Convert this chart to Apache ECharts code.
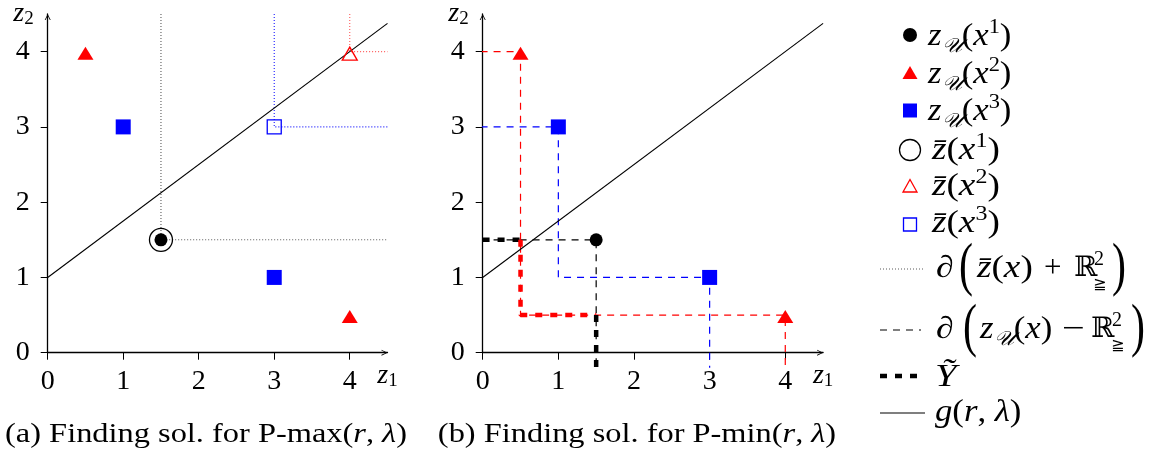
<!DOCTYPE html>
<html><head><meta charset="utf-8">
<script src="https://cdn.jsdelivr.net/npm/echarts@6/dist/echarts.min.js"></script>
<style>html,body{margin:0;padding:0;background:#fff}#c{width:1152px;height:457px}</style>
</head><body><div id="c"></div><script>
// ---------- data ----------
const tickValues = [0, 1, 2, 3, 4];
const tickLabels = ['0', '1', '2', '3', '4'];
const axisMin = 0, axisMax = 4.5;
const zU1 = [[1.5, 1.5]];
const zU2 = [[0.5, 4], [4, 0.5]];
const zU3 = [[1, 3], [3, 1]];
const zBar1 = [[1.5, 1.5]];
const zBar2 = [[4, 4]];
const zBar3 = [[3, 3]];
const gLine = [[-0.2, 0.85], [4.5, 4.375]];
const upBound1 = [[1.5, 4.5], [1.5, 1.5], [4.5, 1.5]];
const upBound2 = [[4, 4.5], [4, 4], [4.5, 4]];
const upBound3 = [[3, 4.5], [3, 3], [4.5, 3]];
const lowBound1 = [[-0.2, 1.5], [1.5, 1.5], [1.5, -0.2]];
const lowBound2 = [[-0.2, 4], [0.5, 4], [0.5, 0.5], [4, 0.5], [4, -0.2]];
const lowBound3 = [[-0.2, 3], [1, 3], [1, 1], [3, 1], [3, -0.2]];
const yTildeBlackA = [[-0.2, 1.5], [0.5, 1.5]];
const yTildeRed = [[0.5, 1.5], [0.5, 0.5], [1.5, 0.5]];
const yTildeBlackB = [[1.5, 0.5], [1.5, -0.2]];

// ---------- style ----------
const SERIF = "'Liberation Serif', 'DejaVu Serif', serif";
const MATHF = "'Liberation Serif', 'DejaVu Serif', 'DejaVu Sans', 'Noto Sans', serif";
const RED = '#ff0000', BLUE = '#0000ff', BLACK = '#000000';
const arrowPath = 'path://M0,10 L5,0 L10,10 L8.6,10 L5,2.8 L1.4,10 Z';
const FS = 28;

function xAx(gi) {
  return {
    type: 'value', gridIndex: gi, min: axisMin, max: axisMax, interval: 1,
    splitLine: { show: false },
    axisLine: { onZero: false, lineStyle: { color: BLACK, width: 1.3 }, symbol: ['none', arrowPath], symbolSize: [7, 6], symbolOffset: [0, -3] },
    axisTick: { customValues: tickValues, length: 7, lineStyle: { color: BLACK, width: 1 } },
    axisLabel: { customValues: tickValues, formatter: v => tickLabels[tickValues.indexOf(v)], margin: 15,
      color: BLACK, fontFamily: SERIF, fontSize: FS },
    name: '{i|z}{s|1}', nameLocation: 'end', nameGap: 0,
    nameTextStyle: { align: 'center', verticalAlign: 'top', padding: [8, 0, 0, 0],
      rich: { i: { fontFamily: SERIF, fontStyle: 'italic', fontSize: FS, lineHeight: 30, color: BLACK },
              s: { fontFamily: SERIF, fontSize: 19, lineHeight: 19, verticalAlign: 'bottom', color: BLACK } } }
  };
}
function yAx(gi) {
  return {
    type: 'value', gridIndex: gi, min: axisMin, max: axisMax, interval: 1,
    splitLine: { show: false },
    axisLine: { onZero: false, lineStyle: { color: BLACK, width: 1.3 }, symbol: ['none', arrowPath], symbolSize: [7, 6], symbolOffset: [0, -3] },
    axisTick: { customValues: tickValues, length: 7, lineStyle: { color: BLACK, width: 1 } },
    axisLabel: { customValues: tickValues, formatter: v => tickLabels[tickValues.indexOf(v)], margin: 18,
      color: BLACK, fontFamily: SERIF, fontSize: FS },
    name: '{i|z}{s|2}', nameLocation: 'end', nameGap: 0,
    nameTextStyle: { align: 'right', verticalAlign: 'middle', padding: [0, 14, 0, 0],
      rich: { i: { fontFamily: SERIF, fontStyle: 'italic', fontSize: FS, lineHeight: 30, color: BLACK },
              s: { fontFamily: SERIF, fontSize: 19, lineHeight: 19, verticalAlign: 'bottom', color: BLACK } } }
  };
}
function lineS(gi, data, color, width, type, z) {
  return { type: 'line', xAxisIndex: gi, yAxisIndex: gi, data, showSymbol: false, symbol: 'none', clip: false,
    silent: true, animation: false, z: z || 2, lineStyle: { color, width, type, cap: 'butt', opacity: 1 } };
}
function scat(gi, data, symbol, size, fill, stroke, offset, z) {
  return { type: 'scatter', xAxisIndex: gi, yAxisIndex: gi, data, symbol, symbolSize: size, symbolOffset: offset || [0, 0],
    clip: false, silent: true, animation: false, z: z || 4,
    itemStyle: stroke ? { color: 'rgba(0,0,0,0)', borderColor: stroke, borderWidth: 1.3, opacity: 1 } : { color: fill, opacity: 1 } };
}
const TRI = [16, 13], TRIOFF = [0, 1.5];
const series = [
  // (a)
  lineS(0, gLine, BLACK, 1.1, 'solid', 3),
  lineS(0, upBound1, 'rgba(0,0,0,0.65)', 1.1, [1, 2]),
  lineS(0, upBound2, 'rgba(255,0,0,0.65)', 1.1, [1, 2]),
  lineS(0, upBound3, 'rgba(0,0,255,0.9)', 1.1, [1, 2]),
  scat(0, zBar1, 'circle', 23, null, BLACK),
  scat(0, zBar2, 'triangle', [15, 13], null, RED, [0, 2]),
  scat(0, zBar3, 'rect', 14, null, BLUE),
  scat(0, zU1, 'circle', 13, BLACK),
  scat(0, zU2, 'triangle', TRI, RED, null, TRIOFF),
  scat(0, zU3, 'rect', 15, BLUE),
  // (b)
  lineS(1, gLine, BLACK, 1.1, 'solid', 3),
  lineS(1, lowBound1, BLACK, 1.2, [7, 6]),
  lineS(1, lowBound2, RED, 1.2, [7, 6]),
  lineS(1, lowBound3, BLUE, 1.2, [7, 6]),
  lineS(1, yTildeBlackA, BLACK, 4.5, [7, 8], 3),
  lineS(1, yTildeRed, RED, 4.5, [7, 8], 3),
  lineS(1, yTildeBlackB, BLACK, 4.5, [7, 8], 3),
  scat(1, zU1, 'circle', 13, BLACK),
  scat(1, zU2, 'triangle', TRI, RED, null, TRIOFF),
  scat(1, zU3, 'rect', 15, BLUE)
];

// ---------- legend & captions (graphics) ----------
const LF = 31;
const rich = {
  i: { fontFamily: SERIF, fontStyle: 'italic', fontSize: LF, lineHeight: 34, fill: BLACK },
  r: { fontFamily: SERIF, fontSize: LF, lineHeight: 34, fill: BLACK },
  s: { fontFamily: MATHF, fontStyle: 'italic', fontSize: 20, lineHeight: 20, verticalAlign: 'bottom', padding: [0, 0, -3, 0], fill: BLACK },
  p: { fontFamily: SERIF, fontSize: 20, lineHeight: 20, verticalAlign: 'top', padding: [-2, 0, 0, 0], fill: BLACK }
};
const SX = 1.12;
function rt(x, y, text, sx) {
  return { type: 'text', x, y, silent: true, scaleX: sx || SX,
    style: { text, rich, verticalAlign: 'middle', align: 'left', fill: BLACK } };
}
function pt(x, y, text, size, opts) {
  opts = opts || {};
  return { type: 'text', x, y, silent: true, scaleX: opts.sx || 1,
    style: { text, fontFamily: opts.font || MATHF, fontStyle: opts.italic ? 'italic' : 'normal', fontSize: size,
      verticalAlign: 'middle', align: opts.align || 'left', fill: BLACK } };
}
function caption(x, y, head) {
  return { type: 'text', x, y, silent: true, scaleX: 1.2,
    style: { text: '{c|' + head + '(}{ci|r}{c|, }{ci|λ}{c|)}', align: 'center', verticalAlign: 'middle',
      rich: { c: { fontFamily: SERIF, fontSize: 27, fill: BLACK }, ci: { fontFamily: SERIF, fontStyle: 'italic', fontSize: 27, fill: BLACK } } } };
}
const LX = 910;
const graphics = [
  { type: 'circle', shape: { cx: LX, cy: 35, r: 7 }, style: { fill: BLACK }, silent: true },
  { type: 'polygon', shape: { points: [[LX - 7.5, 79], [LX + 7.5, 79], [LX, 66]] }, style: { fill: RED }, silent: true },
  { type: 'rect', shape: { x: LX - 7, y: 103.5, width: 14, height: 14 }, style: { fill: BLUE }, silent: true },
  { type: 'circle', shape: { cx: LX, cy: 150, r: 10.5 }, style: { fill: 'none', stroke: BLACK, lineWidth: 1.3 }, silent: true },
  { type: 'polygon', shape: { points: [[LX - 7, 192], [LX + 7, 192], [LX, 179.5]] }, style: { fill: 'none', stroke: RED, lineWidth: 1.3 }, silent: true },
  { type: 'rect', shape: { x: LX - 6.5, y: 218, width: 13, height: 13 }, style: { fill: 'none', stroke: BLUE, lineWidth: 1.3 }, silent: true },
  { type: 'line', shape: { x1: 880, y1: 269, x2: 925, y2: 269 }, style: { stroke: 'rgba(0,0,0,0.65)', lineWidth: 1.1, lineDash: [1, 2] }, silent: true },
  { type: 'line', shape: { x1: 880, y1: 330, x2: 921, y2: 330 }, style: { stroke: BLACK, lineWidth: 1.2, lineDash: [7, 6] }, silent: true },
  { type: 'line', shape: { x1: 880, y1: 376, x2: 921, y2: 376 }, style: { stroke: BLACK, lineWidth: 4.5, lineDash: [7, 8] }, silent: true },
  { type: 'line', shape: { x1: 880, y1: 413, x2: 925, y2: 413 }, style: { stroke: BLACK, lineWidth: 1.1 }, silent: true },

  rt(928, 37, '{i|z}{s|𝒰}{r|(}{i|x}{p|1}{r|)}'),
  rt(928, 75, '{i|z}{s|𝒰}{r|(}{i|x}{p|2}{r|)}'),
  rt(928, 112, '{i|z}{s|𝒰}{r|(}{i|x}{p|3}{r|)}'),
  rt(932, 151, '{i|z\u0304}{r|(}{i|x}{p|1}{r|)}', 1.2),
  rt(932, 187, '{i|z\u0304}{r|(}{i|x}{p|2}{r|)}', 1.2),
  rt(932, 224, '{i|z\u0304}{r|(}{i|x}{p|3}{r|)}', 1.2),

  // row: boundary of zbar + R^2
  pt(936, 269, '∂', LF, { italic: true, font: SERIF, sx: 1.15 }),
  pt(959, 268, '(', 60, { sx: 0.7, font: SERIF }),
  rt(977, 269, '{i|z\u0304}{r|(}{i|x}{r|)}', 1.2),
  pt(1044, 269, '+', LF, { font: SERIF }),
  pt(1074, 269, 'ℝ', FS, { font: "'DejaVu Serif', serif" }),
  pt(1094, 260, '2', 20, { font: SERIF }),
  pt(1093, 285, '≧', 16, { font: "'DejaVu Sans', sans-serif" }),
  pt(1112, 268, ')', 60, { sx: 0.7, font: SERIF }),

  // row: boundary of zU - R^2
  pt(936, 330, '∂', LF, { italic: true, font: SERIF, sx: 1.15 }),
  pt(963, 329, '(', 60, { sx: 0.7, font: SERIF }),
  rt(980, 330, '{i|z}{s|𝒰}{r|(}{i|x}{r|)}'),
  pt(1062, 330, '−', LF, { font: SERIF, sx: 1.3 }),
  pt(1091, 330, 'ℝ', FS, { font: "'DejaVu Serif', serif" }),
  pt(1112, 321, '2', 20, { font: SERIF }),
  pt(1111, 346, '≧', 16, { font: "'DejaVu Sans', sans-serif" }),
  pt(1131, 329, ')', 60, { sx: 0.7, font: SERIF }),

  rt(935, 378, '{i|Ỹ}', 1.25),
  rt(935, 413, '{i|g}{r|(}{i|r}{r|, }{i|λ}{r|)}'),

  caption(206, 435, '(a) Finding sol. for P-max'),
  caption(637, 435, '(b) Finding sol. for P-min')
];

const chart = echarts.init(document.getElementById('c'), null, { renderer: 'canvas' });
chart.setOption({
  backgroundColor: '#ffffff',
  animation: false,
  grid: [
    { left: 47.7, top: 12.5, width: 339.8, height: 340.2 },
    { left: 482.7, top: 12.5, width: 340.4, height: 340.2 }
  ],
  xAxis: [xAx(0), xAx(1)],
  yAxis: [yAx(0), yAx(1)],
  series,
  graphic: graphics
});
</script></body></html>
